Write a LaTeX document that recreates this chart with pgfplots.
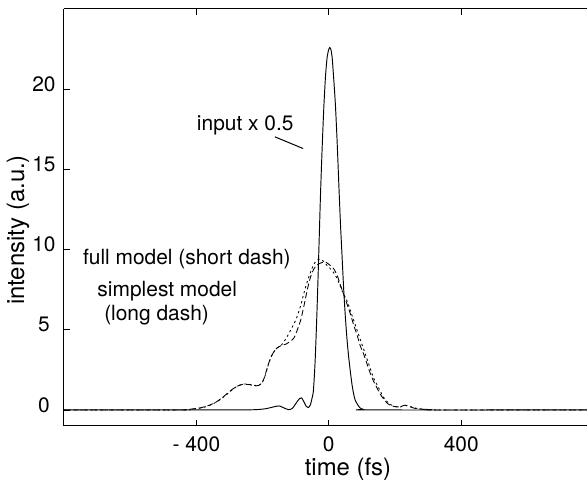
\documentclass[border=0pt]{standalone}
\usepackage{fontspec}
\setmainfont{TeX Gyre Heros}
\usepackage{pgfplots}
\pgfplotsset{compat=1.18}
\begin{document}
\fontsize{21}{25}\selectfont
\begin{tikzpicture}
\begin{axis}[
  scale only axis, width=523bp, height=417bp,
  xmin=-800, xmax=780, ymin=-1, ymax=25,
  axis x line=box, axis y line*=left,
  xtick={-400,0,400}, xticklabels={- 400,0,400},
  ytick={0,5,10,15,20}, yticklabels={0,5,10,15,20},
  tick align=inside, major tick length=6bp,
  tick style={line width=0.9bp, black},
  axis line style={line width=1bp, black},
  xticklabel style={font=\fontsize{21}{25}\selectfont, yshift=-4bp},
  yticklabel style={font=\fontsize{21}{25}\selectfont, anchor=center, xshift=-20bp, yshift=5bp},
]
\coordinate (bl) at (rel axis cs:0,0);
\coordinate (tr) at (rel axis cs:1,1);
% input pulse (solid)
\addplot[black, line width=0.95bp, smooth, tension=0.4] coordinates {
(-800,0) (-300,0) (-220,0.02) (-190,0.08) (-165,0.2) (-150,0.25) (-138,0.15) (-122,0.02)
(-110,0.1) (-98,0.45) (-88,0.72) (-82,0.75) (-75,0.5) (-68,0.22) (-62,0.15) (-56,0.3)
(-51,0.7) (-47,1.1) (-44,2.0) (-41,3.2) (-38,4.8) (-35,6.6) (-32,8.6) (-29,10.7)
(-25,13.5) (-20,16.4) (-15,18.9) (-10,20.8) (-5,22.0) (0,22.5) (3,22.6) (6,22.5)
(10,22.0) (15,20.6) (20,19.0) (25,16.8) (30,14.2) (35,11.7) (40,9.6) (45,7.5)
(50,5.8) (55,4.4) (60,3.3) (65,2.4) (70,1.6) (75,1.0) (80,0.6) (88,0.3) (95,0.12)
(105,0.03) (120,0) (800,0)
};
% simplest model (long dash)
\addplot[black, line width=0.85bp, dash pattern=on 6bp off 3bp, smooth, tension=0.4] coordinates {
(-800,0) (-450,0) (-420,0.05) (-390,0.12) (-360,0.3) (-340,0.5) (-320,0.8) (-300,1.15)
(-280,1.45) (-260,1.6) (-240,1.58) (-220,1.5) (-205,1.6) (-195,2.0) (-185,2.7) (-175,3.3)
(-160,3.8) (-145,4.0) (-130,4.1) (-115,4.3) (-105,4.5) (-95,5.0) (-85,5.6) (-75,6.5)
(-65,7.5) (-55,8.3) (-45,8.8) (-35,9.05) (-20,9.2) (-8,9.2) (5,9.0) (15,8.8) (25,8.4)
(35,7.8) (45,7.2) (55,6.6) (65,6.0) (75,5.3) (85,4.7) (95,4.0) (105,3.5) (115,2.9)
(125,2.3) (135,1.8) (145,1.4) (155,1.0) (165,0.7) (175,0.45) (185,0.3) (200,0.2)
(215,0.2) (230,0.3) (245,0.2) (260,0.1) (280,0.05) (300,0.02) (330,0) (800,0)
};
% full model (short dash)
\addplot[black, line width=0.85bp, dash pattern=on 2.2bp off 3bp, smooth, tension=0.4] coordinates {
(-800,0) (-440,0) (-410,0.06) (-380,0.15) (-355,0.33) (-335,0.55) (-315,0.85) (-295,1.2)
(-275,1.5) (-255,1.62) (-235,1.58) (-218,1.52) (-203,1.65) (-193,2.1) (-183,2.8) (-172,3.4)
(-158,3.85) (-143,4.05) (-128,4.5) (-112,5.1) (-98,5.7) (-85,6.5) (-75,7.3) (-65,8.0)
(-55,8.6) (-45,9.1) (-35,9.35) (-25,9.4) (-15,9.25) (-5,9.0) (5,8.8) (15,8.55) (25,8.2)
(35,7.7) (45,7.2) (55,6.8) (65,6.2) (75,5.6) (85,5.0) (95,4.4) (105,3.8) (115,3.2)
(125,2.6) (135,2.0) (145,1.6) (155,1.2) (165,0.8) (175,0.55) (185,0.35) (200,0.22)
(215,0.18) (232,0.28) (248,0.2) (265,0.1) (285,0.05) (310,0.02) (340,0) (800,0)
};
\node[anchor=base west, inner sep=0pt] at (axis cs:-399,17.45) {input x 0.5};
\draw[black, line width=1bp] (axis cs:-163,17.03) -- (axis cs:-77.6,16.3);
\node[anchor=base west, inner sep=0pt] at (axis cs:-743,9.08) {full model (short dash)};
\node[anchor=base west, inner sep=0pt] at (axis cs:-699.5,7.06) {simplest model};
\node[anchor=base west, inner sep=0pt] at (axis cs:-679,5.6) {(long dash)};
\end{axis}
\node[rotate=90, font=\fontsize{24}{28}\selectfont] at ([shift={(-46bp,196bp)}]bl) {intensity (a.u.)};
\node[font=\fontsize{24}{28}\selectfont] at ([shift={(284bp,-43bp)}]bl) {time (fs)};
\pgfresetboundingbox
\path[use as bounding box] ([shift={(-64bp,-54bp)}]bl) rectangle ([shift={(0bp,9bp)}]tr);
\end{tikzpicture}
\end{document}
